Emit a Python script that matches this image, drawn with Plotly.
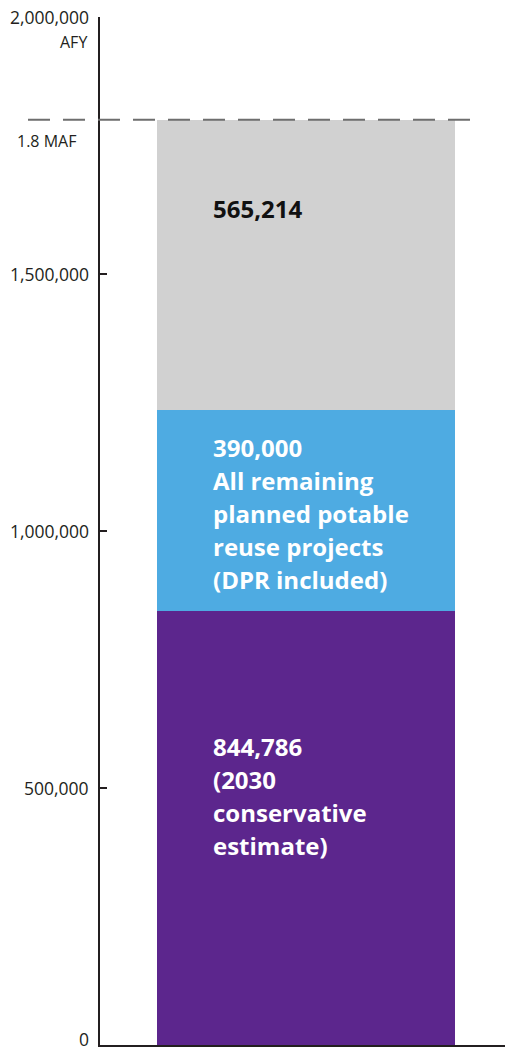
import plotly.graph_objects as go

# ---- data ----
segment_names = ["2030 conservative estimate", "Planned potable reuse", "Remaining"]
segment_values = [844786, 390000, 565214]
segment_colors = ["#5c268d", "#4eabe2", "#d1d1d1"]
segment_text_colors = ["#ffffff", "#ffffff", "#111111"]
segment_labels = [
    ["844,786", "(2030", "conservative", "estimate)"],
    ["390,000", "All remaining", "planned potable", "reuse projects", "(DPR included)"],
    ["565,214"],
]
target_value = 1800000
target_label = "1.8 MAF"
y_ticks = [0, 500000, 1000000, 1500000, 2000000]
y_tick_labels = ["0", "500,000", "1,000,000", "1,500,000", "2,000,000"]
unit_label = "AFY"

# ---- layout constants (pixels) ----
W, H = 505, 1053
ML, MR, MT, MB = 100, 0, 17, 8
plot_w = W - ML - MR
plot_h = H - MT - MB
FONT = "Open Sans"
TXT = "#231f20"
first_line_offset = [136, 37, 89]
line_gap = 33
text_left_px = 211

fig = go.Figure()
for name, val, col in zip(segment_names, segment_values, segment_colors):
    fig.add_trace(go.Bar(x=[""], y=[val], name=name, marker=dict(color=col, line=dict(width=0)),
                         width=0.7358, hoverinfo="skip"))

annotations = []
cum = 0
for i, val in enumerate(segment_values):
    cum += val
    for j, line in enumerate(segment_labels[i]):
        annotations.append(dict(
            x=(text_left_px - ML) / plot_w, xref="paper", xanchor="left",
            y=cum, yref="y", yanchor="middle",
            yshift=-(first_line_offset[i] + j * line_gap),
            text=line, showarrow=False,
            font=dict(family=FONT, size=24, color=segment_text_colors[i], weight="bold"),
        ))

# y tick labels as annotations for precise placement
for tv, tl in zip(y_ticks, y_tick_labels):
    if tv == 0:
        annotations.append(dict(x=0, xref="paper", xanchor="right", xshift=-9,
                                y=tv, yref="y", yanchor="bottom", yshift=-MB,
                                text=tl, showarrow=False,
                                font=dict(family=FONT, size=17.5, color=TXT)))
    else:
        annotations.append(dict(x=0, xref="paper", xanchor="right", xshift=-9,
                                y=tv, yref="y", yanchor="middle",
                                text=tl, showarrow=False,
                                font=dict(family=FONT, size=17.5, color=TXT)))

annotations.append(dict(x=0, xref="paper", xanchor="right", xshift=-11,
                        y=y_ticks[-1], yref="y", yanchor="middle", yshift=-25,
                        text=unit_label, showarrow=False,
                        font=dict(family=FONT, size=16, color=TXT)))
annotations.append(dict(x=0, xref="paper", xanchor="right", xshift=-22,
                        y=target_value, yref="y", yanchor="middle", yshift=-21,
                        text=target_label, showarrow=False,
                        font=dict(family=FONT, size=16, color=TXT)))

fig.add_shape(type="line", xref="paper", yref="y",
              x0=(28 - ML) / plot_w, x1=(482 - ML) / plot_w,
              y0=target_value, y1=target_value,
              line=dict(color="#6e6e6e", width=2, dash="22px,13px"), layer="above")

fig.update_layout(
    width=W, height=H, barmode="stack", showlegend=False,
    margin=dict(l=ML, r=MR, t=MT, b=MB, pad=0),
    paper_bgcolor="white", plot_bgcolor="white",
    font=dict(family=FONT, size=16, color=TXT),
    annotations=annotations,
    xaxis=dict(range=[-0.5086, 0.4914], showticklabels=False, ticks="", showgrid=False,
               zeroline=False, showline=True, linecolor=TXT, linewidth=2, fixedrange=True),
    yaxis=dict(range=[0, 2000000], tickvals=y_ticks, showticklabels=False,
               ticks="inside", ticklen=7, tickwidth=2, tickcolor=TXT,
               showgrid=False, zeroline=False, showline=True, linecolor=TXT,
               linewidth=2),
)

fig.write_html("out.html")
